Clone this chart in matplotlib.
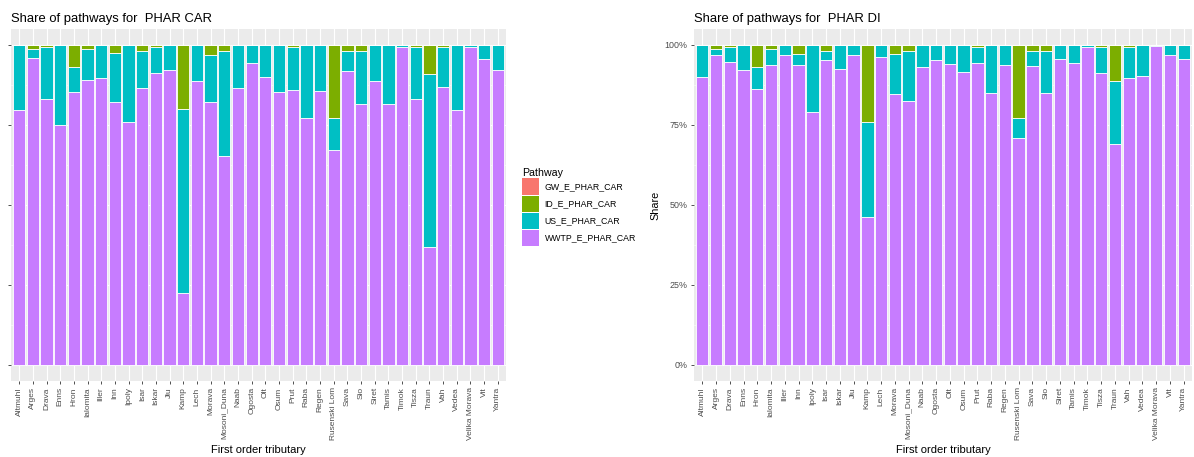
import matplotlib
matplotlib.use("Agg")
import matplotlib.pyplot as plt
from matplotlib.patches import Patch
import numpy as np

plt.rcParams['font.family'] = ['Liberation Sans', 'DejaVu Sans']

tributaries = ["Altmuhl", "Arges", "Drava", "Enns", "Hron", "Ialomita", "Iller", "Inn",
               "Ipoly", "Isar", "Iskar", "Jiu", "Kamp", "Lech", "Morava", "Mosoni_Duna",
               "Naab", "Ogosta", "Olt", "Osum", "Prut", "Raba", "Regen", "Rusenski Lom",
               "Sava", "Sio", "Siret", "Tamis", "Timok", "Tisza", "Traun", "Vah", "Vedea",
               "Velika Morava", "Vit", "Yantra"]

# PHAR CAR shares
car_wwtp = [0.797, 0.958, 0.831, 0.750, 0.852, 0.893, 0.896, 0.821, 0.758, 0.865, 0.914, 0.922,
            0.226, 0.889, 0.823, 0.653, 0.867, 0.943, 0.899, 0.854, 0.859, 0.771, 0.856, 0.672,
            0.920, 0.818, 0.889, 0.816, 0.995, 0.830, 0.370, 0.868, 0.797, 0.995, 0.955, 0.922]
car_us = [0.203, 0.028, 0.162, 0.250, 0.080, 0.094, 0.104, 0.153, 0.242, 0.117, 0.081, 0.078,
          0.574, 0.111, 0.146, 0.329, 0.133, 0.057, 0.101, 0.146, 0.134, 0.229, 0.144, 0.099,
          0.061, 0.164, 0.111, 0.184, 0.005, 0.163, 0.538, 0.127, 0.203, 0.004, 0.045, 0.078]
car_id = [0.000, 0.014, 0.007, 0.000, 0.068, 0.014, 0.000, 0.026, 0.000, 0.019, 0.005, 0.000,
          0.200, 0.000, 0.031, 0.018, 0.000, 0.000, 0.000, 0.000, 0.007, 0.000, 0.000, 0.229,
          0.019, 0.019, 0.000, 0.000, 0.000, 0.007, 0.092, 0.005, 0.000, 0.001, 0.000, 0.000]
car_gw = [0.0] * 36

# PHAR DI shares
di_wwtp = [0.901, 0.969, 0.946, 0.922, 0.862, 0.937, 0.969, 0.937, 0.792, 0.953, 0.925, 0.969,
           0.464, 0.961, 0.847, 0.825, 0.932, 0.953, 0.941, 0.917, 0.945, 0.851, 0.937, 0.708,
           0.934, 0.851, 0.955, 0.943, 0.995, 0.914, 0.690, 0.896, 0.903, 0.998, 0.969, 0.955]
di_us = [0.099, 0.018, 0.047, 0.078, 0.070, 0.049, 0.031, 0.035, 0.208, 0.028, 0.075, 0.031,
         0.294, 0.039, 0.125, 0.156, 0.068, 0.047, 0.059, 0.083, 0.048, 0.149, 0.063, 0.065,
         0.047, 0.130, 0.045, 0.057, 0.005, 0.079, 0.196, 0.099, 0.097, 0.002, 0.031, 0.045]
di_id = [0.000, 0.013, 0.007, 0.000, 0.068, 0.014, 0.000, 0.028, 0.000, 0.019, 0.000, 0.000,
         0.242, 0.000, 0.028, 0.019, 0.000, 0.000, 0.000, 0.000, 0.007, 0.000, 0.000, 0.227,
         0.019, 0.019, 0.000, 0.000, 0.000, 0.007, 0.114, 0.005, 0.000, 0.000, 0.000, 0.000]
di_gw = [0.0] * 36

pathways = ["GW_E_PHAR_CAR", "ID_E_PHAR_CAR", "US_E_PHAR_CAR", "WWTP_E_PHAR_CAR"]
colors = ["#F8766D", "#7CAE00", "#00BFC4", "#C77CFF"]

W, H = 1194, 457
fig = plt.figure(figsize=(W / 100, H / 100), dpi=100)
fig.patch.set_facecolor("white")


def ax_at(x0, y0, x1, y1):
    return fig.add_axes([x0 / W, 1 - y1 / H, (x1 - x0) / W, (y1 - y0) / H])


def draw_panel(ax, gw, idd, us, wwtp, title, show_labels):
    x = np.arange(len(tributaries))
    layers = [np.array(wwtp), np.array(us), np.array(idd), np.array(gw)]
    total = sum(layers)
    bottom = np.zeros(len(x))
    for vals, col in zip(layers, [colors[3], colors[2], colors[1], colors[0]]):
        frac = vals / total
        ax.bar(x, frac, bottom=bottom, width=0.9, color=col, edgecolor="white",
               linewidth=0.6, zorder=3)
        bottom = bottom + frac
    ax.set_facecolor("#EBEBEB")
    ax.set_xlim(-0.6, len(x) - 0.4)
    ax.set_ylim(-0.05, 1.05)
    ax.set_xticks(x)
    ax.set_xticklabels(tributaries, rotation=90, fontsize=6.0, color="#4D4D4D")
    ax.set_yticks([0, 0.25, 0.5, 0.75, 1.0])
    if show_labels:
        ax.set_yticklabels(["0%", "25%", "50%", "75%", "100%"], fontsize=6.4, color="#4D4D4D")
        ax.set_ylabel("Share", fontsize=7.8, labelpad=3)
    else:
        ax.set_yticklabels([])
    ax.set_yticks([0.125, 0.375, 0.625, 0.875], minor=True)
    ax.grid(True, which="major", color="white", linewidth=0.8, zorder=0)
    ax.grid(True, which="minor", axis="y", color="white", linewidth=0.4, zorder=0)
    ax.set_axisbelow(True)
    ax.tick_params(axis="both", which="major", length=2.5, width=0.6, color="#333333", pad=2)
    ax.tick_params(axis="y", which="minor", length=0)
    for s in ax.spines.values():
        s.set_visible(False)
    ax.set_xlabel("First order tributary", fontsize=8.0, labelpad=3)
    ax.set_title(title, loc="left", fontsize=9.4, pad=5)


axL = ax_at(11, 29, 506, 381)
draw_panel(axL, car_gw, car_id, car_us, car_wwtp, "Share of pathways for  PHAR CAR", False)
axR = ax_at(694, 29, 1192, 381)
draw_panel(axR, di_gw, di_id, di_us, di_wwtp, "Share of pathways for  PHAR DI", True)

handles = [Patch(facecolor=c, edgecolor="none") for c in colors]
leg = fig.legend(handles, pathways, title="Pathway", loc="upper left",
                 bbox_to_anchor=(520 / W, 1 - 166 / H), frameon=False,
                 fontsize=6.3, title_fontsize=7.7, handlelength=2.0, handleheight=2.5,
                 handletextpad=0.6, labelspacing=0.08, borderaxespad=0, borderpad=0.2)
leg._legend_box.align = "left"

fig.savefig("out.png", dpi=100)
